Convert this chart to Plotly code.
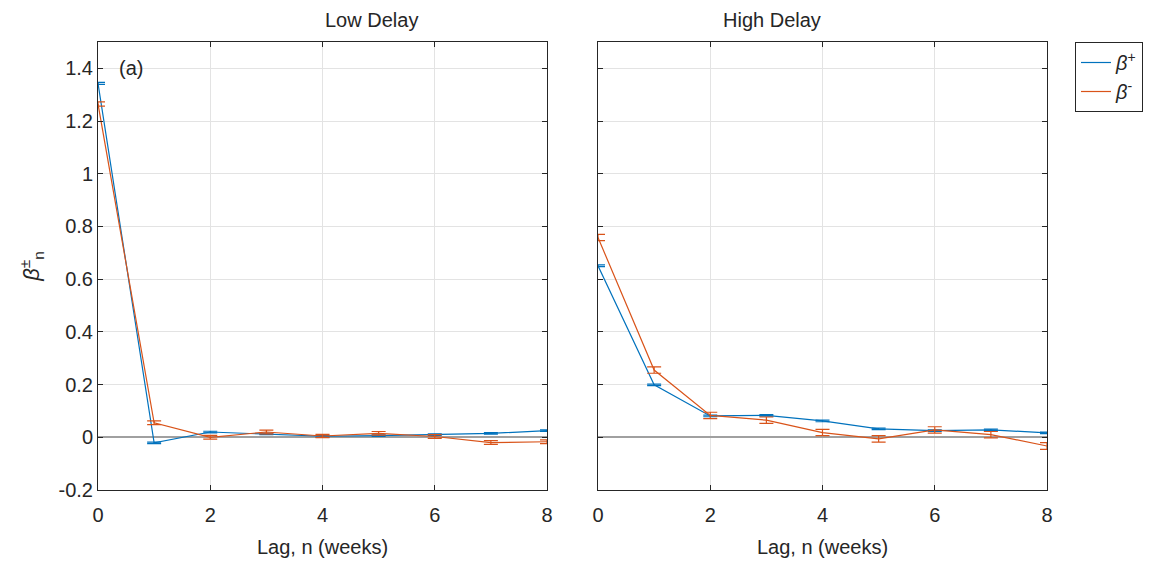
import plotly.graph_objects as go

lags = [0, 1, 2, 3, 4, 5, 6, 7, 8]

low_plus = [1.343, -0.021, 0.020, 0.013, 0.004, 0.006, 0.010, 0.015, 0.025]
low_plus_err = [0.004, 0.003, 0.003, 0.003, 0.003, 0.003, 0.003, 0.003, 0.003]
low_minus = [1.265, 0.055, 0.000, 0.020, 0.005, 0.015, 0.003, -0.020, -0.017]
low_minus_err = [0.008, 0.007, 0.007, 0.007, 0.006, 0.007, 0.007, 0.007, 0.007]

high_plus = [0.651, 0.199, 0.081, 0.083, 0.062, 0.032, 0.025, 0.028, 0.017]
high_plus_err = [0.003, 0.003, 0.003, 0.003, 0.003, 0.003, 0.003, 0.003, 0.003]
high_minus = [0.758, 0.255, 0.083, 0.065, 0.018, -0.006, 0.028, 0.010, -0.033]
high_minus_err = [0.012, 0.012, 0.012, 0.012, 0.012, 0.012, 0.012, 0.012, 0.013]

y_ticks = [-0.2, 0, 0.2, 0.4, 0.6, 0.8, 1.0, 1.2, 1.4]
y_tick_text = ["-0.2", "0", "0.2", "0.4", "0.6", "0.8", "1", "1.2", "1.4"]
x_ticks = [0, 2, 4, 6, 8]

BLUE = "#0072BD"
ORANGE = "#D95319"
FONT = "Liberation Sans, Arial, Helvetica, sans-serif"
TXT = "#262626"

fig = go.Figure()

def add(x, y, err, color, name, xa, ya, show):
    fig.add_trace(go.Scatter(
        x=x, y=y, mode="lines", name=name, showlegend=show,
        line=dict(color=color, width=1.2),
        error_y=dict(type="data", array=err, visible=True, color=color,
                     thickness=1.2, width=7),
        xaxis=xa, yaxis=ya,
    ))

add(lags, low_plus, low_plus_err, BLUE, "<i>β</i><sup>+</sup>", "x", "y", True)
add(lags, low_minus, low_minus_err, ORANGE, "<i>β</i><sup>-</sup>", "x", "y", True)
add(lags, high_plus, high_plus_err, BLUE, "<i>β</i><sup>+</sup>", "x2", "y2", False)
add(lags, high_minus, high_minus_err, ORANGE, "<i>β</i><sup>-</sup>", "x2", "y2", False)

W = 949.0
axis_common = dict(
    showline=True, linecolor=TXT, linewidth=1, mirror="ticks",
    ticks="inside", ticklen=5, tickcolor=TXT,
    showgrid=True, gridcolor="#e3e3e3", gridwidth=1,
    tickfont=dict(size=20, color=TXT, family=FONT),
)

fig.update_layout(
    width=1170, height=565,
    margin=dict(l=90, r=131, t=34, b=83),
    paper_bgcolor="white", plot_bgcolor="white",
    font=dict(family=FONT, color=TXT),
    xaxis=dict(domain=[0, 449 / W], range=[0, 8], tickvals=x_ticks,
               zeroline=False, ticklabelstandoff=7,
               title=dict(text="Lag, n (weeks)", font=dict(size=20), standoff=14),
               **axis_common),
    xaxis2=dict(domain=[500 / W, 1], range=[0, 8], tickvals=x_ticks,
                zeroline=False, anchor="y2", ticklabelstandoff=7,
                title=dict(text="Lag, n (weeks)", font=dict(size=20), standoff=14),
                **axis_common),
    yaxis=dict(range=[-0.2, 1.5], tickvals=y_ticks, ticktext=y_tick_text,
               zeroline=True, zerolinecolor="#a0a0a0", zerolinewidth=2,
               title=dict(text="<i>β</i><sup>±</sup><sub>n</sub>", font=dict(size=22), standoff=12),
               **axis_common),
    yaxis2=dict(range=[-0.2, 1.5], tickvals=y_ticks, showticklabels=False,
                anchor="x2",
                zeroline=True, zerolinecolor="#a0a0a0", zerolinewidth=2,
                **axis_common),
    legend=dict(x=(1075 - 98) / W, y=1.0, xanchor="left", yanchor="top",
                bordercolor=TXT, borderwidth=1, bgcolor="white",
                font=dict(size=20, family=FONT), tracegroupgap=2),
    annotations=[
        dict(text="Low Delay", x=(449 / W) / 2, y=1.0, xref="paper", yref="paper",
             yanchor="bottom", yshift=9, showarrow=False, font=dict(size=20)),
        dict(text="High Delay", x=(500 / W + 1) / 2, y=1.0, xref="paper", yref="paper",
             yanchor="bottom", yshift=9, showarrow=False, font=dict(size=20)),
        dict(text="(a)", x=0.33, y=1.4, xref="x", yref="y", xanchor="left",
             showarrow=False, font=dict(size=20)),
    ],
)

fig.write_html("out.html")
